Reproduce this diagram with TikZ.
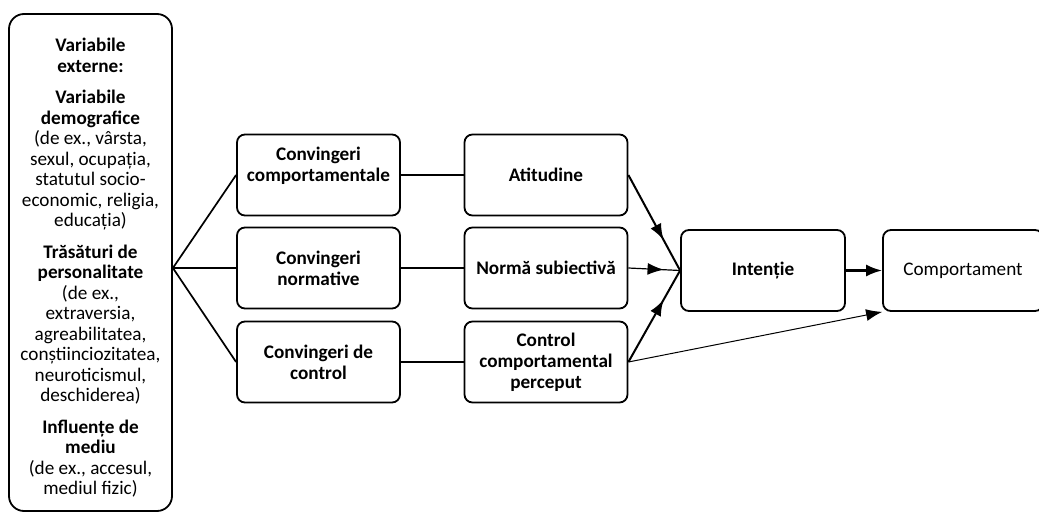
\documentclass[tikz,border=0pt]{standalone}
\usepackage{fontspec}
\setmainfont{Carlito}
\usetikzlibrary{arrows.meta,decorations.markings}
\tikzset{
  box/.style={draw, line width=1.8pt, rounded corners=8pt, minimum width=163pt, minimum height=81pt,
    align=center, inner sep=2pt, font=\fontsize{19.2}{20.8}\selectfont\bfseries},
  conn/.style={line width=1.7pt},
  midarrow/.style={decoration={markings, mark=at position 0.68 with {\arrow{Latex[length=16pt,width=12pt]}}}, postaction={decorate}},
}
\begin{document}
\begin{tikzpicture}[x=1pt,y=-1pt]
\useasboundingbox (0,0) rectangle (1039,519);
\node[box, rounded corners=15pt, minimum height=497pt, font=\fontsize{19.2}{20.5}\selectfont] (ev) at (90.5,262.5)
 {\rule{0pt}{24pt}\textbf{Variabile}\\\textbf{externe:}\\[11pt]
  \textbf{Variabile}\\\textbf{demografice}\\(de ex., vârsta,\\sexul, ocupația,\\statutul socio-\\economic, religia,\\educația)\\[11pt]
  \textbf{Trăsături de}\\\textbf{personalitate}\\(de ex.,\\extraversia,\\agreabilitatea,\\conștiinciozitatea,\\neuroticismul,\\deschiderea)\\[11pt]
  \textbf{Influențe de}\\\textbf{mediu}\\(de ex., accesul,\\mediul fizic)};
\node[box] (cc) at (318.5,175) {Convingeri\\comportamentale\\\mbox{}};
\node[box] (cn) at (318.5,268) {Convingeri\\normative};
\node[box] (cd) at (318.5,362) {Convingeri de\\control};
\node[box] (at) at (546,175) {Atitudine};
\node[box] (ns) at (546,268) {Normă subiectivă};
\node[box] (cp) at (546,362) {Control\\comportamental\\perceput};
\node[box, minimum width=164pt] (in) at (763,270.5) {Intenție};
\node[box, minimum width=160pt, font=\fontsize{19.2}{20.8}\selectfont] (co) at (963,270.5) {Comportament};
\coordinate (fan) at (ev.east |- cn.west);
\draw[conn] (fan) -- (cc.west);
\draw[conn] (fan) -- (cn.west);
\draw[conn] (fan) -- (cd.west);
\draw[conn] (cc) -- (at);
\draw[conn] (cn) -- (ns);
\draw[conn] (cd) -- (cp);
\draw[line width=2pt, midarrow] (at.east) -- (in.west);
\draw[line width=1.2pt, midarrow] (ns.east) -- (in.west);
\draw[line width=2pt, midarrow] (cp.east) -- (in.west);
\draw[line width=2.2pt, -{Latex[length=16pt,width=12pt]}] (in) -- (co);
\draw[line width=1pt, -{Latex[length=16pt,width=12pt]}] (cp.east) -- (co.south west);
\end{tikzpicture}
\end{document}
